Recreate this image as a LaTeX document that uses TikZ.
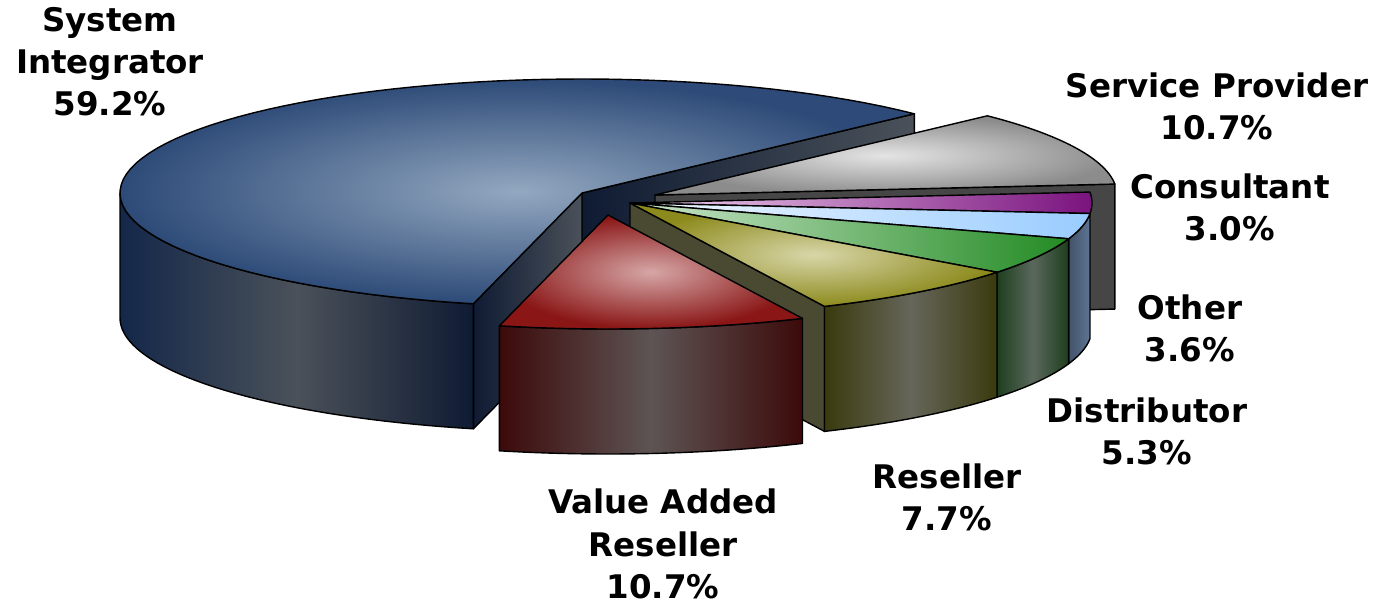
\documentclass[tikz,border=0pt]{standalone}
\usepackage{fontspec}
\setmainfont{DejaVu Sans}
\usetikzlibrary{calc}

% slice colours
\definecolor{siTop}{HTML}{93A8C0}
\definecolor{siRim}{HTML}{1B3A6B}
\definecolor{siSide}{HTML}{4A5159}
\definecolor{siDark}{HTML}{0F1B33}
\definecolor{spTop}{HTML}{E4E4E4}
\definecolor{spRim}{HTML}{8C8C8C}
\definecolor{spSide}{HTML}{464646}
\definecolor{coLeft}{HTML}{F2D6F2}
\definecolor{coRight}{HTML}{7A137E}
\definecolor{otLeft}{HTML}{F2F8FF}
\definecolor{otRight}{HTML}{99CCFF}
\definecolor{otSide}{HTML}{5E7594}
\definecolor{diLeft}{HTML}{CDE7CD}
\definecolor{diRight}{HTML}{238B23}
\definecolor{diSide}{HTML}{5A685C}
\definecolor{diDark}{HTML}{1E3E1E}
\definecolor{reTop}{HTML}{D8D6A8}
\definecolor{reRim}{HTML}{8C8A1C}
\definecolor{reSide}{HTML}{66665A}
\definecolor{reDark}{HTML}{3A3A0E}
\definecolor{reCut}{HTML}{4A4A33}
\definecolor{vaTop}{HTML}{D6A6A6}
\definecolor{vaRim}{HTML}{8A1616}
\definecolor{vaSide}{HTML}{5E5454}
\definecolor{vaDark}{HTML}{3C0A0A}

\newcommand{\pieRX}{462}
\newcommand{\pieRY}{114}
\newcommand{\pieD}{125}

\begin{document}
\begin{tikzpicture}[
        x=0.02cm, y=0.02cm,
        line join=round,
        face/.style={draw=black, line width=0.8pt},
        lbl/.style={font=\fontsize{18.5}{24}\selectfont\bfseries, align=center}
    ]
    \useasboundingbox (0,0) rectangle (1381,605);

    % ------- slice centres and corners -------
    \coordinate (cSI) at (582,412);
    \coordinate (cSP) at (655,410);
    \coordinate (cMid) at (630,402);
    \coordinate (cVAR) at (608,390);
    \coordinate (siA) at ($(cSI)+({\pieRX*cos(44)},{\pieRY*sin(44)})$);
    \coordinate (siB) at ($(cSI)+({\pieRX*cos(256.4)},{\pieRY*sin(256.4)})$);
    \coordinate (spB) at ($(cSP)+({\pieRX*cos(5.5)},{\pieRY*sin(5.5)})$);
    \coordinate (reB) at ($(cMid)+({\pieRX*cos(-65.1)},{\pieRY*sin(-65.1)})$);

    % ------- System Integrator -------
    \draw[face, left color=siDark, right color=siSide]
        (cSI) -- (siA) -- ++(0,-\pieD) -- ($(cSI)+(0,-\pieD)$) -- cycle;
    \draw[face, left color=siDark, right color=siSide]
        (siB) -- (cSI) -- ++(0,-\pieD) -- ($(siB)+(0,-\pieD)$) -- cycle;
    \draw[face, left color=siDark!60!siRim, right color=siDark, middle color=siSide]
        plot[domain=180:256.4, samples=40] ({582+\pieRX*cos(\x)},{412+\pieRY*sin(\x)})
        -- plot[domain=256.4:180, samples=40] ({582+\pieRX*cos(\x)},{412-\pieD+\pieRY*sin(\x)})
        -- cycle;
    \draw[face, inner color=siTop, outer color=siRim!85!siTop]
        (cSI) -- plot[domain=44:256.4, samples=80] ({582+\pieRX*cos(\x)},{412+\pieRY*sin(\x)})
        -- cycle;

    % ------- Service Provider -------
    \draw[face, fill=spSide]
        (cSP) -- (spB) -- ++(0,-\pieD) -- ($(cSP)+(0,-\pieD)$) -- cycle;
    \draw[face, inner color=spTop, outer color=spRim]
        (cSP) -- plot[domain=5.5:44, samples=40] ({655+\pieRX*cos(\x)},{410+\pieRY*sin(\x)})
        -- cycle;

    % ------- Consultant -------
    \draw[face, left color=coLeft, right color=coRight]
        (cMid) -- plot[domain=-5.3:5.5, samples=20] ({630+\pieRX*cos(\x)},{402+\pieRY*sin(\x)})
        -- cycle;

    % ------- Other -------
    \draw[face, left color=otSide!70!black, right color=otSide]
        plot[domain=-18.3:-5.3, samples=20] ({630+\pieRX*cos(\x)},{402+\pieRY*sin(\x)})
        -- plot[domain=-5.3:-18.3, samples=20] ({630+\pieRX*cos(\x)},{402-\pieD+\pieRY*sin(\x)})
        -- cycle;
    \draw[face, left color=otLeft, right color=otRight]
        (cMid) -- plot[domain=-18.3:-5.3, samples=20] ({630+\pieRX*cos(\x)},{402+\pieRY*sin(\x)})
        -- cycle;

    % ------- Distributor -------
    \draw[face, left color=diDark, right color=diDark, middle color=diSide]
        plot[domain=-37.4:-18.3, samples=20] ({630+\pieRX*cos(\x)},{402+\pieRY*sin(\x)})
        -- plot[domain=-18.3:-37.4, samples=20] ({630+\pieRX*cos(\x)},{402-\pieD+\pieRY*sin(\x)})
        -- cycle;
    \draw[face, left color=diLeft, right color=diRight]
        (cMid) -- plot[domain=-37.4:-18.3, samples=20] ({630+\pieRX*cos(\x)},{402+\pieRY*sin(\x)})
        -- cycle;

    % ------- Reseller -------
    \draw[face, fill=reCut]
        (cMid) -- (reB) -- ++(0,-\pieD) -- ($(cMid)+(0,-\pieD)$) -- cycle;
    \draw[face, left color=reDark, right color=reDark, middle color=reSide]
        plot[domain=-65.1:-37.4, samples=30] ({630+\pieRX*cos(\x)},{402+\pieRY*sin(\x)})
        -- plot[domain=-37.4:-65.1, samples=30] ({630+\pieRX*cos(\x)},{402-\pieD+\pieRY*sin(\x)})
        -- cycle;
    \draw[face, inner color=reTop, outer color=reRim]
        (cMid) -- plot[domain=-65.1:-37.4, samples=30] ({630+\pieRX*cos(\x)},{402+\pieRY*sin(\x)})
        -- cycle;

    % ------- Value Added Reseller -------
    \draw[face, left color=vaDark, right color=vaDark, middle color=vaSide]
        plot[domain=-103.6:-65.1, samples=40] ({608+\pieRX*cos(\x)},{390+\pieRY*sin(\x)})
        -- plot[domain=-65.1:-103.6, samples=40] ({608+\pieRX*cos(\x)},{390-\pieD+\pieRY*sin(\x)})
        -- cycle;
    \draw[face, inner color=vaTop, outer color=vaRim]
        (cVAR) -- plot[domain=-103.6:-65.1, samples=40] ({608+\pieRX*cos(\x)},{390+\pieRY*sin(\x)})
        -- cycle;

    % ------- labels -------
    \node[lbl] (lblSI) at (110,543) {System\\Integrator\\59.2\%};
    \node[lbl] (lblSP) at (1217,499) {Service Provider\\10.7\%};
    \node[lbl] (lblCO) at (1230,398) {Consultant\\3.0\%};
    \node[lbl] (lblOT) at (1190,277) {Other\\3.6\%};
    \node[lbl] (lblDI) at (1147,174) {Distributor\\5.3\%};
    \node[lbl] (lblRE) at (947,108) {Reseller\\7.7\%};
    \node[lbl] (lblVA) at (663,61) {Value Added\\Reseller\\10.7\%};

\end{tikzpicture}
\end{document}
